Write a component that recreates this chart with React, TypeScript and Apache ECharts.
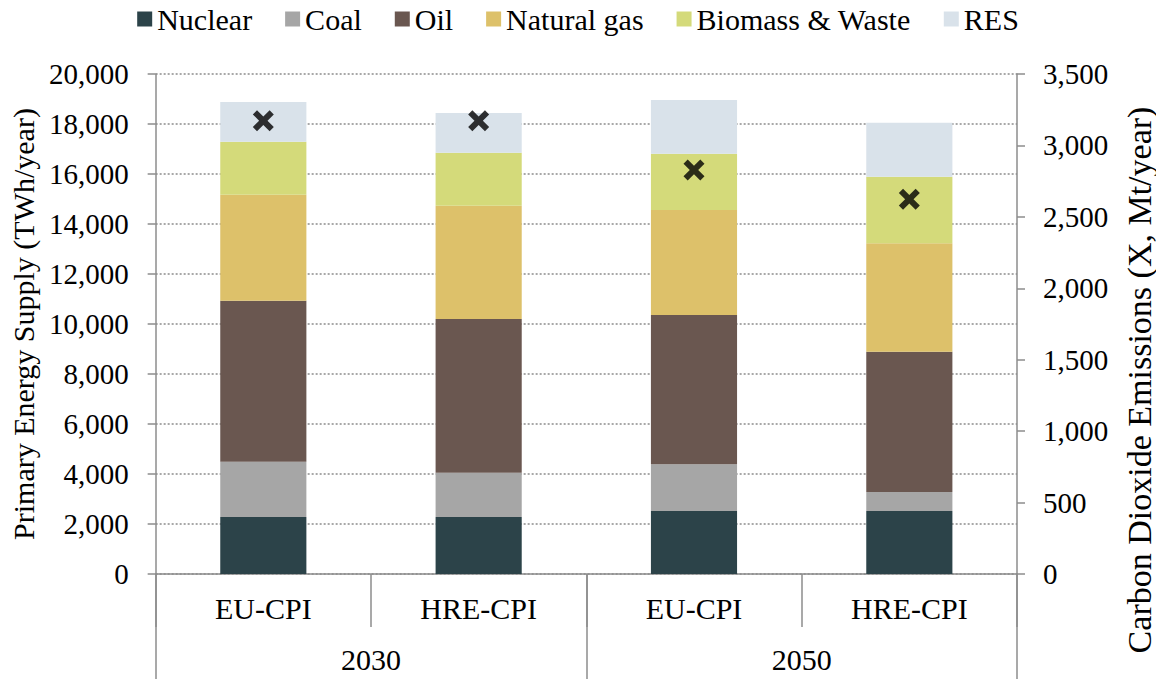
import React, { useEffect, useRef } from "react";
import * as echarts from "echarts";

const categories = ["EU-CPI", "HRE-CPI", "EU-CPI", "HRE-CPI"];
const years = ["2030", "2050"];
const nuclear = [2280, 2280, 2520, 2520];
const coal = [2210, 1770, 1870, 760];
const oil = [6440, 6150, 5970, 5610];
const naturalGas = [4240, 4530, 4200, 4340];
const biomass = [2120, 2120, 2250, 2660];
const res = [1590, 1590, 2150, 2160];
const co2 = [3173, 3173, 2828, 2623];

const seriesNames = ["Nuclear", "Coal", "Oil", "Natural gas", "Biomass & Waste", "RES"];
const seriesValues = [nuclear, coal, oil, naturalGas, biomass, res];
const seriesColors = ["#2c4349", "#a6a6a6", "#6a5750", "#ddc16a", "#d4da7a", "#d9e2ea"];

const FONT = "Liberation Serif";
const GRAY = "#8c8c8c";
const X_PATH =
  "path://M4,0 L10,6 L16,0 L20,4 L14,10 L20,16 L16,20 L10,14 L4,20 L0,16 L6,10 L0,4 Z";

const fmt = (v: number) => v.toLocaleString("en-US");

export default function App() {
  const ref = useRef<HTMLDivElement>(null);
  useEffect(() => {
    if (!ref.current) return;
    const chart = echarts.init(ref.current, undefined, { renderer: "svg" });
    const txt = { color: "#000", fontFamily: FONT };
    const barSeries = seriesNames.map((name, i) => ({
      name,
      type: "bar",
      stack: "total",
      data: seriesValues[i],
      barCategoryGap: "60%",
      itemStyle: { color: seriesColors[i] },
      emphasis: { disabled: true },
    }));
    chart.setOption({
      animation: false,
      textStyle: { fontFamily: FONT },
      legend: {
        data: seriesNames,
        top: 4,
        padding: 0,
        left: "center",
        icon: "rect",
        itemWidth: 15,
        itemHeight: 15,
        itemGap: 33,
        textStyle: { ...txt, fontSize: 30 },
      },
      grid: { left: 155, right: 139, top: 74, bottom: 105, containLabel: false },
      xAxis: [
        {
          type: "category",
          data: categories,
          axisLine: { lineStyle: { color: GRAY, width: 1.5 } },
          axisTick: { show: true, length: 53, interval: 0, lineStyle: { color: GRAY, width: 1.5 } },
          axisLabel: { ...txt, fontSize: 30, margin: 19, interval: 0 },
        },
        {
          type: "category",
          data: years,
          position: "bottom",
          axisLine: { show: false },
          axisTick: { show: true, length: 105, interval: 0, lineStyle: { color: GRAY, width: 1.5 } },
          axisLabel: { ...txt, fontSize: 30, margin: 70, interval: 0 },
        },
      ],
      yAxis: [
        {
          type: "value",
          min: 0,
          max: 20000,
          interval: 2000,
          name: "Primary Energy Supply (TWh/year)",
          nameLocation: "middle",
          nameRotate: 90,
          nameGap: 110,
          nameTextStyle: { ...txt, fontSize: 30 },
          axisLine: { show: true, lineStyle: { color: GRAY, width: 1.5 } },
          axisTick: { show: true, length: 8, lineStyle: { color: GRAY, width: 1.5 } },
          axisLabel: { ...txt, fontSize: 29, margin: 27, formatter: fmt },
          splitLine: { show: true, lineStyle: { color: GRAY, width: 1.5, type: [2, 2] } },
        },
        {
          type: "value",
          min: 0,
          max: 3500,
          interval: 500,
          position: "right",
          axisLine: { show: true, lineStyle: { color: GRAY, width: 1.5 } },
          axisTick: { show: true, length: 8, lineStyle: { color: GRAY, width: 1.5 } },
          axisLabel: { ...txt, fontSize: 29, margin: 26, formatter: fmt },
          splitLine: { show: false },
        },
      ],
      graphic: [
        {
          type: "text",
          x: 1139,
          y: 380,
          rotation: Math.PI / 2,
          style: {
            text: "Carbon Dioxide Emissions (X, Mt/year)",
            fontFamily: FONT,
            fontSize: 34,
            fill: "#000",
            align: "center",
            verticalAlign: "middle",
          },
        },
      ],
      series: [
        ...barSeries,
        {
          name: "CO2",
          type: "scatter",
          yAxisIndex: 1,
          data: co2,
          symbol: X_PATH,
          symbolSize: 21,
          itemStyle: { color: "#000" },
          z: 10,
          emphasis: { disabled: true },
        },
      ],
    });
    return () => chart.dispose();
  }, []);
  return (
    <div
      ref={ref}
      style={{ position: "fixed", left: 0, top: 0, width: 1156, height: 679, background: "#fff" }}
    />
  );
}
